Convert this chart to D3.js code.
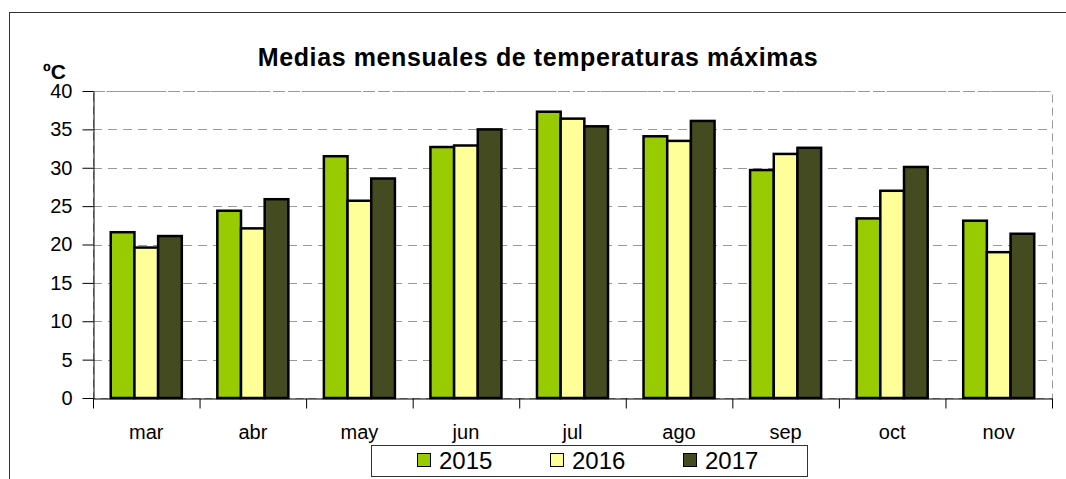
<!DOCTYPE html>
<html>
<head>
<meta charset="utf-8">
<script src="https://cdn.jsdelivr.net/npm/d3@7/dist/d3.min.js"></script>
<style>
  body { margin: 0; background: #fff; }
  svg { display: block; font-family: "Liberation Sans", Arial, sans-serif; }
</style>
</head>
<body>
<svg id="chart" width="1066" height="479"></svg>
<script>
// Datos
var months = ["mar", "abr", "may", "jun", "jul", "ago", "sep", "oct", "nov"];
var years = ["2015", "2016", "2017"];
var t2015 = [21.6, 24.4, 31.5, 32.7, 37.3, 34.1, 29.7, 23.4, 23.1];
var t2016 = [19.6, 22.1, 25.7, 32.9, 36.4, 33.5, 31.8, 27.0, 19.0];
var t2017 = [21.1, 25.9, 28.6, 35.0, 35.4, 36.1, 32.6, 30.1, 21.4];
var yTicks = [0, 5, 10, 15, 20, 25, 30, 35, 40];
var colors = ["#99CC00", "#FFFF99", "#454B20"];

var series = [t2015, t2016, t2017];

// plot area
var LEFT = 93, RIGHT = 1052, TOP = 91, BOTTOM = 398;

var svg = d3.select("#chart");

// outer frame
svg.append("rect")
    .attr("x", 9.5).attr("y", 12.5)
    .attr("width", 1080).attr("height", 500)
    .attr("fill", "none")
    .attr("stroke", "#333");

var y = d3.scaleLinear().domain([0, 40]).range([BOTTOM, TOP]);
var x = d3.scaleBand().domain(months).range([LEFT, RIGHT])
    .paddingInner(1 / 3).paddingOuter(1 / 6);
var xYear = d3.scaleBand().domain(years).range([0, x.bandwidth()]);
var xIdx = d3.scaleLinear().domain([0, months.length]).range([LEFT, RIGHT]);

// plot area border (dashed)
svg.append("rect")
    .attr("x", LEFT + 0.5).attr("y", TOP + 0.5)
    .attr("width", RIGHT - LEFT).attr("height", BOTTOM - TOP)
    .attr("fill", "none")
    .attr("stroke", "#999")
    .attr("stroke-dasharray", "8,5");

// gridlines
svg.append("g").selectAll("line")
    .data(yTicks.filter(function(d) { return d > 0; }))
    .enter().append("line")
    .attr("x1", LEFT).attr("x2", RIGHT)
    .attr("y1", function(d) { return Math.round(y(d)) + 0.5; })
    .attr("y2", function(d) { return Math.round(y(d)) + 0.5; })
    .attr("stroke", "#999")
    .attr("stroke-dasharray", function(d) { return d == 40 ? "12,3" : "9,6"; });

// bars
var rows = [];
months.forEach(function(m, i) {
    years.forEach(function(yr, j) {
        rows.push({ month: m, year: yr, value: series[j][i], color: colors[j] });
    });
});

svg.append("g").selectAll("rect")
    .data(rows)
    .enter().append("rect")
    .attr("x", function(d) { return x(d.month) + xYear(d.year); })
    .attr("y", function(d) { return y(d.value); })
    .attr("width", xYear.bandwidth())
    .attr("height", function(d) { return BOTTOM - y(d.value); })
    .attr("fill", function(d) { return d.color; })
    .attr("stroke", "#000")
    .attr("stroke-width", 2.5);

// y axis
var yAxis = svg.append("g")
    .attr("transform", "translate(" + (LEFT + 0.5) + ",0)")
    .call(d3.axisLeft(y).tickValues(yTicks).tickSize(11).tickPadding(10).tickSizeOuter(0));
yAxis.selectAll("text").attr("font-size", 20).attr("fill", "#000").attr("font-family", null);
yAxis.selectAll("line, path").attr("stroke", "#000");

// x axis: ticks between categories
var xTickAxis = svg.append("g")
    .attr("transform", "translate(0," + (BOTTOM + 0.5) + ")")
    .call(d3.axisBottom(xIdx).tickValues(d3.range(months.length + 1))
        .tickSize(10).tickSizeOuter(0).tickFormat(""));
xTickAxis.selectAll("line, path").attr("stroke", "#000");

var xLabelAxis = svg.append("g")
    .attr("transform", "translate(0," + (BOTTOM + 0.5) + ")")
    .call(d3.axisBottom(x).tickSize(0).tickPadding(26));
xLabelAxis.select("path").remove();
xLabelAxis.selectAll("text").attr("font-size", 20).attr("fill", "#000").attr("font-family", null);

// title
svg.append("text")
    .attr("x", 538).attr("y", 66)
    .attr("text-anchor", "middle")
    .attr("font-size", 25).attr("font-weight", "bold")
    .attr("letter-spacing", 0.6)
    .text("Medias mensuales de temperaturas máximas");

// unit label
svg.append("text")
    .attr("x", 43).attr("y", 79)
    .attr("font-size", 21).attr("font-weight", "bold")
    .text("ºC");

// legend
var legend = svg.append("g");
legend.append("rect")
    .attr("x", 371.5).attr("y", 445.5)
    .attr("width", 436).attr("height", 31)
    .attr("fill", "#fff").attr("stroke", "#333");

var items = legend.selectAll("g.item")
    .data(years)
    .enter().append("g")
    .attr("class", "item")
    .attr("transform", function(d, i) { return "translate(" + (417 + i * 133) + ",0)"; });
items.append("rect")
    .attr("x", 0.5).attr("y", 453.5)
    .attr("width", 13).attr("height", 13)
    .attr("fill", function(d, i) { return colors[i]; })
    .attr("stroke", "#000");
items.append("text")
    .attr("x", 22).attr("y", 469)
    .attr("font-size", 24)
    .text(function(d) { return d; });
</script>
</body>
</html>
